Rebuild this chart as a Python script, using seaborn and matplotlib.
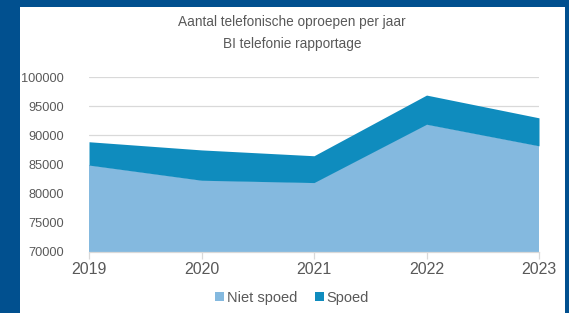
import matplotlib
matplotlib.use("Agg")
import matplotlib.pyplot as plt
from matplotlib.patches import Rectangle
import seaborn as sns

years = [2019, 2020, 2021, 2022, 2023]
niet_spoed = [84900, 82300, 81900, 91900, 88200]
spoed = [4000, 5200, 4600, 5000, 4800]

light = "#84b9df"
dark = "#0f8cbe"
grey = "#595959"

sns.set_theme(style="white")
plt.rcParams['font.family'] = ['Liberation Sans', 'DejaVu Sans']

fig = plt.figure(figsize=(5.69, 3.13), dpi=100, facecolor="#01508f")
# white panel behind everything
fig.patches.append(Rectangle((20 / 569, 0), 545 / 569, 306 / 313,
                             transform=fig.transFigure, facecolor="white",
                             edgecolor="none", zorder=-10))
ax = fig.add_axes([89 / 569, 1 - 252 / 313, 450 / 569, 175 / 313])
ax.set_facecolor("none")

ax.stackplot(years, niet_spoed, spoed, colors=[light, dark],
             labels=["Niet spoed", "Spoed"], linewidth=0, zorder=2)

ax.set_xlim(2019, 2023)
ax.set_ylim(70000, 100000)
ax.set_xticks(years)
ax.set_yticks(range(70000, 100001, 5000))
ax.yaxis.grid(True, color="#d9d9d9", linewidth=0.9, zorder=0)
ax.set_axisbelow(True)
sns.despine(ax=ax, left=True, top=True, right=True)
ax.spines["bottom"].set_color("#d9d9d9")
ax.spines["bottom"].set_linewidth(0.9)
ax.tick_params(axis="x", bottom=True, length=5, width=0.9, color="#d9d9d9",
               labelsize=11.5, labelcolor=grey, pad=2)
ax.tick_params(axis="y", left=False, labelsize=9.2, labelcolor=grey, pad=12)

fig.text(292 / 569, 1 - 22 / 313, "Aantal telefonische oproepen per jaar",
         ha="center", va="center", fontsize=9.8, color=grey)
fig.text(292 / 569, 1 - 44 / 313, "BI telefonie rapportage",
         ha="center", va="center", fontsize=9.8, color=grey)

fig.legend(loc="center", bbox_to_anchor=(292 / 569, 1 - 298 / 313), ncol=2,
           frameon=False, fontsize=10.5, labelcolor=grey, handlelength=0.6,
           handleheight=0.6, handletextpad=0.2, columnspacing=1.2)

fig.savefig("out.png", dpi=100, facecolor=fig.get_facecolor())
